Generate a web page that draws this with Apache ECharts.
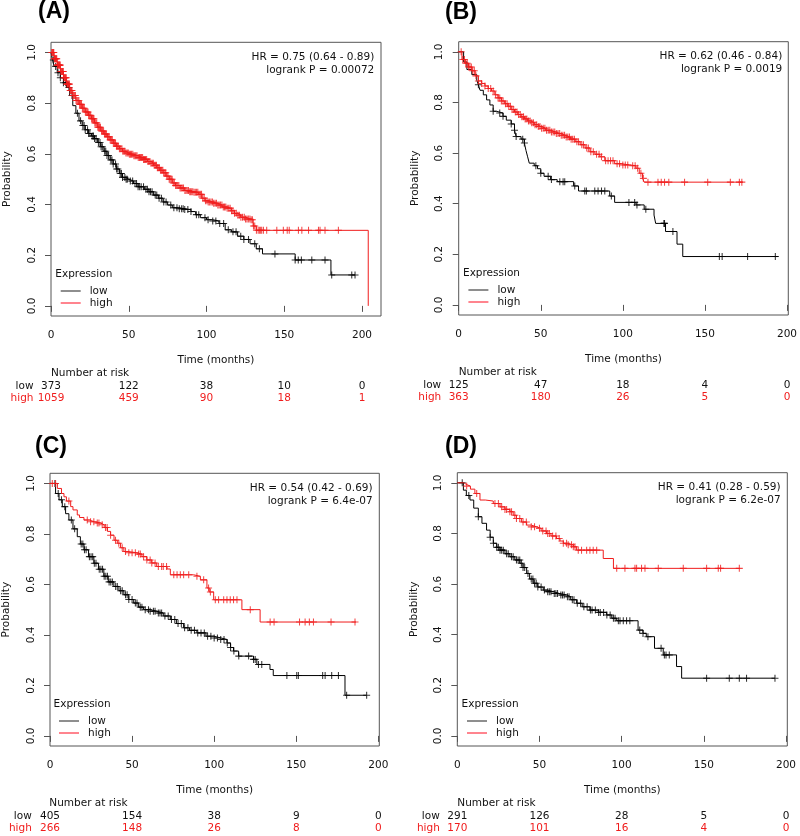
<!DOCTYPE html>
<html><head><meta charset="utf-8">
<script src="https://cdn.jsdelivr.net/npm/echarts@6/dist/echarts.min.js"></script>
<style>html,body{margin:0;padding:0;background:#fff}#c{width:800px;height:836px}</style>
</head><body><div id="c"></div>
<script>
// ---------- data ----------
const panelLabels = ['(A)', '(B)', '(C)', '(D)'];
const xTicks = [0, 50, 100, 150, 200];
const yTicks = [0, 0.2, 0.4, 0.6, 0.8, 1.0];
const hrLines = ['HR = 0.75 (0.64 - 0.89)', 'HR = 0.62 (0.46 - 0.84)', 'HR = 0.54 (0.42 - 0.69)', 'HR = 0.41 (0.28 - 0.59)'];
const pLines = ['logrank P = 0.00072', 'logrank P = 0.0019', 'logrank P = 6.4e-07', 'logrank P = 6.2e-07'];

const riskLowA = [373, 122, 38, 10, 0];
const riskHighA = [1059, 459, 90, 18, 1];
const riskLowB = [125, 47, 18, 4, 0];
const riskHighB = [363, 180, 26, 5, 0];
const riskLowC = [405, 154, 38, 9, 0];
const riskHighC = [266, 148, 26, 8, 0];
const riskLowD = [291, 126, 28, 5, 0];
const riskHighD = [170, 101, 16, 4, 0];

// Kaplan-Meier step curves: [time (months), survival probability]
const lowA = [[0,1],[1,0.97],[2,0.945],[4,0.92],[6,0.9],[8,0.88],[10,0.862],[12,0.83],[14,0.79],[16,0.76],[18,0.73],[20,0.712],[22,0.695],[24,0.68],[26,0.67],[28,0.66],[30,0.645],[32,0.628],[34,0.61],[36,0.593],[38,0.576],[40,0.56],[42,0.54],[44,0.522],[46,0.507],[48,0.5],[50,0.493],[53,0.483],[56,0.47],[60,0.46],[63,0.45],[66,0.437],[69,0.425],[72,0.41],[75,0.398],[78,0.387],[82,0.383],[86,0.38],[90,0.372],[93,0.36],[96,0.348],[100,0.34],[104,0.335],[108,0.325],[112,0.3],[116,0.292],[120,0.275],[124,0.262],[128,0.245],[132,0.225],[136,0.205],[157,0.181],[180,0.122],[195.5,0.122]];
const highA = [[0,1],[2,0.975],[4,0.95],[6,0.925],[8,0.9],[10,0.875],[12,0.85],[14,0.83],[16,0.81],[18,0.795],[20,0.78],[22,0.765],[24,0.752],[26,0.738],[28,0.722],[30,0.705],[32,0.69],[34,0.678],[36,0.667],[38,0.655],[40,0.642],[42,0.63],[44,0.62],[46,0.61],[48,0.603],[50,0.598],[53,0.592],[56,0.585],[59,0.578],[62,0.57],[64,0.563],[66,0.555],[68,0.545],[70,0.535],[72,0.525],[74,0.512],[76,0.5],[78,0.485],[80,0.475],[83,0.465],[86,0.455],[89,0.45],[92,0.448],[95,0.44],[97,0.425],[99,0.415],[101,0.41],[104,0.405],[107,0.398],[110,0.39],[113,0.385],[116,0.375],[118,0.365],[120,0.358],[122,0.35],[125,0.343],[128,0.34],[130,0.315],[132,0.298],[204,0]];
const lowB = [[0,1],[3,0.96],[5,0.93],[8,0.91],[11,0.888],[12,0.87],[13,0.848],[15,0.83],[17,0.81],[19,0.79],[21,0.765],[23,0.758],[27,0.745],[29,0.73],[32,0.715],[34,0.69],[35,0.665],[38,0.655],[40,0.64],[41,0.61],[42,0.585],[43,0.56],[46,0.55],[48,0.538],[50,0.52],[52,0.508],[56,0.495],[60,0.487],[70,0.47],[73,0.45],[92,0.43],[95,0.405],[108,0.395],[113,0.378],[119,0.355],[120,0.322],[126,0.29],[133,0.24],[136.5,0.191],[194.7,0.191]];
const highB = [[0,1],[2,0.97],[4,0.955],[6,0.94],[8,0.925],[10,0.905],[12,0.885],[14,0.875],[16,0.865],[18,0.855],[20,0.845],[22,0.83],[24,0.818],[26,0.806],[28,0.795],[30,0.785],[32,0.772],[34,0.762],[36,0.752],[38,0.743],[40,0.735],[42,0.727],[44,0.72],[46,0.712],[48,0.705],[50,0.698],[53,0.69],[56,0.683],[59,0.677],[62,0.67],[65,0.663],[68,0.655],[71,0.645],[74,0.633],[77,0.62],[80,0.605],[83,0.595],[86,0.585],[89,0.57],[95,0.558],[99,0.553],[104,0.55],[108,0.54],[110,0.52],[112,0.5],[113,0.485],[173,0.485]];
const lowC = [[0,1],[3.4,0.96],[5.5,0.935],[7.5,0.908],[9.5,0.88],[11.5,0.855],[14,0.82],[16.6,0.789],[18.5,0.76],[20.7,0.737],[23.5,0.71],[26.7,0.684],[29.5,0.66],[32.8,0.632],[35.5,0.61],[38.9,0.592],[42,0.575],[45,0.559],[48,0.54],[51,0.526],[54,0.51],[57,0.5],[61,0.494],[65,0.487],[69,0.475],[73.3,0.461],[77,0.445],[81.4,0.428],[85,0.418],[89.5,0.408],[95,0.395],[99.7,0.388],[104,0.382],[107.8,0.368],[110,0.35],[111.8,0.336],[114.9,0.316],[124,0.303],[126,0.283],[134,0.263],[136,0.239],[179.7,0.161],[192.9,0.161]];
const highC = [[0,1],[4.5,0.98],[7,0.96],[8.5,0.947],[10,0.93],[12.6,0.908],[14,0.895],[16.6,0.875],[18,0.865],[20.7,0.855],[24,0.848],[27,0.843],[30.8,0.836],[33,0.825],[35,0.81],[36.9,0.795],[39,0.775],[41,0.763],[43,0.745],[45,0.73],[48,0.725],[53,0.72],[56,0.71],[59,0.697],[62,0.685],[65,0.671],[71.3,0.661],[73.3,0.638],[87.5,0.632],[91.6,0.618],[95.6,0.586],[97,0.57],[99.7,0.539],[116.9,0.5],[128,0.451],[186.4,0.451]];
const lowD = [[0,1],[3.7,0.971],[5.5,0.95],[7.7,0.932],[10,0.9],[12.8,0.866],[15,0.84],[17.8,0.813],[20,0.785],[21.9,0.761],[24,0.745],[26,0.734],[29,0.72],[32,0.708],[35,0.695],[38.1,0.682],[40,0.665],[42.2,0.642],[44,0.62],[46.2,0.603],[49,0.588],[52.3,0.576],[55,0.57],[58.4,0.563],[62,0.557],[66.5,0.55],[69,0.538],[72.6,0.524],[76,0.51],[80.7,0.497],[86,0.488],[90.9,0.478],[94,0.465],[97,0.455],[110,0.418],[113,0.405],[115,0.392],[120,0.346],[125.3,0.32],[133.4,0.274],[136.5,0.228],[193.3,0.228]];
const highD = [[0,1],[4,0.993],[5.7,0.987],[8,0.975],[10.7,0.958],[13.8,0.932],[17,0.928],[21.9,0.918],[26,0.905],[29,0.895],[32,0.886],[34,0.872],[36,0.859],[39,0.845],[42.2,0.833],[45,0.826],[48.3,0.82],[51,0.81],[54.3,0.8],[57,0.79],[60.4,0.78],[62.5,0.77],[64.5,0.761],[67,0.755],[70.6,0.747],[72.6,0.734],[88.8,0.701],[95,0.662],[172,0.662]];

// censoring times (months)
const censLowA = [1.5,3,4.5,6,8,9.5,11.5,13.5,17,19,20.5,21.3,22,23.5,24.2,25,26.5,27.3,28,29,30.5,31.5,32.2,33,34.5,35.2,36,37,38.5,39.2,40,41.5,42.2,43,44.5,45.3,46,47.5,48.3,49,51,52.5,54,55,56,57,58,59.5,61,62,63,64,65,67,68,69.5,71,72.5,74,77,79,81,82.5,84,85,86,88,90,93.5,95,99,101,104,106,108.5,111,114,117,119,122,124,127,131,134,144,157,159,161,167.7,176.2,180.5,193.4,195.5];
const censHighA = [0.5,0.8,1.2,1.5,1.8,2.2,2.5,2.8,3.1,3.4,3.7,4.1,4.4,4.7,5.0,5.3,5.6,5.9,6.3,6.6,7.0,7.3,7.6,7.9,8.3,8.7,9.1,9.4,9.8,10.2,10.6,11.0,11.4,11.8,12.3,12.7,13.1,13.5,14.0,14.6,15.2,15.7,16.1,16.7,17.3,17.9,18.4,19.0,19.6,20.2,20.8,21.4,22.1,22.7,23.3,23.8,24.2,24.8,25.5,26.1,26.7,27.2,27.6,28.2,28.8,29.4,30.1,30.6,31.2,31.8,32.5,33.1,33.8,34.4,35.0,35.6,36.3,36.8,37.4,38.1,38.8,39.4,40.1,40.8,41.5,42.1,42.7,43.3,44.0,44.8,45.6,46.2,46.9,47.5,48.2,49.0,49.7,50.4,51.1,51.8,52.6,53.3,54.0,54.6,55.3,56.1,56.9,57.5,58.2,58.9,59.5,60.1,60.8,61.5,62.3,62.9,63.6,64.3,65.1,65.8,66.4,67.1,67.8,68.4,69.0,69.7,70.4,71.1,71.9,72.5,73.2,73.8,74.5,75.2,76.0,76.6,77.3,77.9,78.6,79.3,80.1,80.8,81.5,82.2,83.0,83.7,84.4,85.2,86.1,86.8,87.6,88.4,89.2,89.8,90.5,91.2,92.0,92.8,93.6,94.4,95.2,96.0,96.8,97.6,98.5,99.4,100.3,101.1,102.0,102.9,103.8,104.6,105.5,106.4,107.3,108.1,109.0,109.9,110.8,111.6,112.4,113.3,114.3,115.2,116.1,117.0,118.0,119.1,120.2,121.1,122.1,123.2,124.3,125.1,126.0,126.9,127.9,128.7,129.5,130.2,131.0,132.1,133.2,134.0,134.8,135.5,136.6,138.7,145.2,149.4,151.9,153.2,159.1,161.3,165.6,172,173,176.2,184.8];
const censLowB = [12,21,25,27,32,34,35,39,40,47,50,54.5,56.5,61.6,63.6,64.6,70.7,76.8,77.8,82.9,84.9,87,89,93,103.7,107.2,108.6,114,125,125.4,130.5,158.8,160.5,176,192.9];
const censHighB = [1.5,2.5,3.5,4.3,5.2,6,6.8,7.7,8.5,9.5,10.5,12,14,16,18,19.5,21,22.5,24,25,26,27,28.5,29.5,30.5,31.5,32.5,33.5,34.5,35.5,36.5,37.5,38.5,39.5,40.5,41.5,42.5,43.5,44.5,45.5,46.5,47.5,48.5,49.5,50.5,51.5,52.5,53.5,54.5,55.5,56.5,57.5,58.5,59.5,60.5,61.5,62.5,63.5,64.5,65.5,66.5,67.5,68.5,69.5,70.5,72,73,75,76,78,79,80.5,82,84,85.5,87,89.5,91,92.5,94,96.5,98,100,101.5,103,106,107.5,109,111,112.5,115.3,121.4,123.4,125.4,128,137.6,151.7,165.5,171,172.5];
const censLowC = [3,5,7,9,13,15,19,20,21,22,24,25,26,27,28,30,31,32,33,34,35,36,37,38,40,41,43,44,46,47,48,50,52,53,55,56,58,60,61,63,64,66,67,68,70,72,74,76,78,80,82,84,86,88,90,92,94,96,98,100,102,104,106,108,110,112,115,121,124,125,127,129,144.3,150.3,151.3,166.1,167.6,171.6,175.7,180.7,192.9];
const censHighC = [1.4,3.4,11.5,22.7,24.7,26.7,28.8,29.8,31.8,33.8,34.8,36.9,39.9,41.9,44,46,48,50,52,54,55,57,59,61,62,64,66,68,69,71,75.4,77.4,79.4,81.4,84.5,89.5,93.6,96.6,97.7,100.7,102.7,105.8,107.8,109.8,111.8,113.9,122,134.1,136.5,152,155.4,158,160.5,171.2,185.8];
const censLowD = [3,7,12.8,20,22,24,25,26,27,28,30,31,33,34,36,37,38,39,40,41,43,45,46,47,48,49,51,53,55,56,57,59,60,61,63,64,65,67,68,70,71,73,75,77,79,81,82,84,86,87,89,91,93,95,96,98,99,101,103,105,111,113,116,124,126,127,129,151.7,165.5,171.6,176,193.3];
const censHighD = [5.7,11.8,22.9,25,27,29,30,32,33,35,36,38,40,42,45,47,50,52,54,55,56,58,60,62,64.5,66.5,67.5,69.5,70.6,71.6,73.6,75.6,78.7,80.7,82.7,84.8,97,102,108.1,109.1,112.1,114.2,122.3,137.5,151.7,158.8,160.2,171.6];

// ---------- layout (pixels) ----------
const boxes = [
  {left: 51, top: 42.3, width: 330, height: 273.7, xMax: 212.2, lx: 38, ly: 12},
  {left: 458.7, top: 41.7, width: 330.3, height: 273.3, xMax: 200.8, lx: 445, ly: 12.5},
  {left: 49.3, top: 473.3, width: 330, height: 272.7, xMax: 200.6, lx: 35, ly: 446.5},
  {left: 457.3, top: 472.7, width: 330, height: 273.3, xMax: 200.8, lx: 445, ly: 447}
];
const panels = [
  {low: lowA, high: highA, cl: censLowA, ch: censHighA, rl: riskLowA, rh: riskHighA},
  {low: lowB, high: highB, cl: censLowB, ch: censHighB, rl: riskLowB, rh: riskHighB},
  {low: lowC, high: highC, cl: censLowC, ch: censHighC, rl: riskLowC, rh: riskHighC},
  {low: lowD, high: highD, cl: censLowD, ch: censHighD, rl: riskLowD, rh: riskHighD}
];

const RED = '#f01c1c';
const FONT = 'DejaVu Sans';
const FS = 10.5;
const PLUS = 'path://M4.25,0H5.75V4.25H10V5.75H5.75V10H4.25V5.75H0V4.25H4.25Z';

function survAt(curve, t) {
  let s = curve[0][1];
  for (const p of curve) { if (p[0] <= t) s = p[1]; else break; }
  return s;
}

const grid = [], xAxis = [], yAxis = [], series = [], legend = [], graphic = [];
boxes.forEach((b, i) => {
  const P = panels[i];
  const bottom = b.top + b.height, right = b.left + b.width;
  grid.push({left: b.left, top: b.top, width: b.width, height: b.height, show: true,
    borderColor: '#555', borderWidth: 1, backgroundColor: 'transparent'});
  xAxis.push({type: 'value', gridIndex: i, min: 0, max: b.xMax,
    axisLine: {show: false}, splitLine: {show: false},
    axisTick: {show: true, customValues: xTicks, length: 6, lineStyle: {color: '#555'}},
    axisLabel: {customValues: xTicks, margin: 19.5, verticalAlign: 'middle', fontSize: FS, color: '#111', fontFamily: FONT},
    name: 'Time (months)', nameLocation: 'middle', nameGap: 44.3,
    nameTextStyle: {fontSize: FS, color: '#111', fontFamily: FONT, verticalAlign: 'middle'}});
  [[P.rl, '#111', 70.5], [P.rh, RED, 82.5]].forEach(([arr, col, m]) => {
    xAxis.push({type: 'value', gridIndex: i, min: 0, max: b.xMax, position: 'bottom',
      axisLine: {show: false}, axisTick: {show: false}, splitLine: {show: false},
      axisLabel: {customValues: xTicks, margin: m, verticalAlign: 'middle', fontSize: FS, color: col, fontFamily: FONT,
        formatter: v => String(arr[xTicks.indexOf(v)])}});
  });
  yAxis.push({type: 'value', gridIndex: i, min: -0.04, max: 1.04,
    axisLine: {show: false}, splitLine: {show: false},
    axisTick: {show: true, customValues: yTicks, length: 6, lineStyle: {color: '#555'}},
    axisLabel: {customValues: yTicks, rotate: 90, margin: 19, verticalAlign: 'middle', fontSize: FS, color: '#111', fontFamily: FONT,
      formatter: v => v.toFixed(1)},
    name: 'Probability', nameLocation: 'middle', nameGap: 43.5,
    nameTextStyle: {fontSize: FS, color: '#111', fontFamily: FONT, verticalAlign: 'middle'}});
  const xi = i * 3;
  series.push({name: 'low', type: 'line', step: 'end', xAxisIndex: xi, yAxisIndex: i, data: P.low,
    showSymbol: false, lineStyle: {color: '#000', width: 1}, itemStyle: {color: '#000'}, z: 2});
  series.push({name: 'low censored', type: 'scatter', xAxisIndex: xi, yAxisIndex: i,
    data: P.cl.map(t => [t, survAt(P.low, t)]), symbol: PLUS, symbolSize: 7,
    itemStyle: {color: '#000'}, z: 2});
  series.push({name: 'high', type: 'line', step: 'end', xAxisIndex: xi, yAxisIndex: i, data: P.high,
    showSymbol: false, lineStyle: {color: RED, width: 1}, itemStyle: {color: RED}, z: 3});
  series.push({name: 'high censored', type: 'scatter', xAxisIndex: xi, yAxisIndex: i,
    data: P.ch.map(t => [t, survAt(P.high, t)]), symbol: PLUS, symbolSize: 7,
    itemStyle: {color: RED}, z: 3});
  legend.push({data: [{name: 'low', itemStyle: {color: '#444'}}, {name: 'high', itemStyle: {color: '#f34'}}],
    orient: 'vertical', left: b.left + 9.7, top: bottom - 31, itemWidth: 20, itemHeight: 1.2,
    itemGap: 0, icon: 'rect', padding: 0, selectedMode: false,
    textStyle: {fontSize: FS, color: '#111', fontFamily: FONT, lineHeight: 12, padding: [0, 0, 0, 4]}});
  const txt = (x, y, text, align, extra) => graphic.push({type: 'text', x, y,
    style: Object.assign({text, fontSize: FS, fontFamily: FONT, fill: '#111', align, verticalAlign: 'middle'}, extra || {})});
  txt(b.lx, b.ly, panelLabels[i], 'left', {fontSize: 23, fontWeight: 'bold', fontFamily: 'Liberation Sans', fill: '#000'});
  txt(right - 6.7, b.top + 14.5, hrLines[i], 'right');
  txt(right - 6.7, b.top + 27.8, pLines[i], 'right');
  txt(b.left + 4.3, bottom - 41.5, 'Expression', 'left');
  txt(b.left, bottom + 57.3, 'Number at risk', 'left');
  txt(b.left - 17.5, bottom + 70.5, 'low', 'right');
  txt(b.left - 17.5, bottom + 82.5, 'high', 'right', {fill: RED});
});

const chart = echarts.init(document.getElementById('c'), null, {renderer: 'canvas'});
chart.setOption({animation: false, backgroundColor: '#fff', textStyle: {fontFamily: FONT},
  grid, xAxis, yAxis, series, legend, graphic});
</script></body></html>
